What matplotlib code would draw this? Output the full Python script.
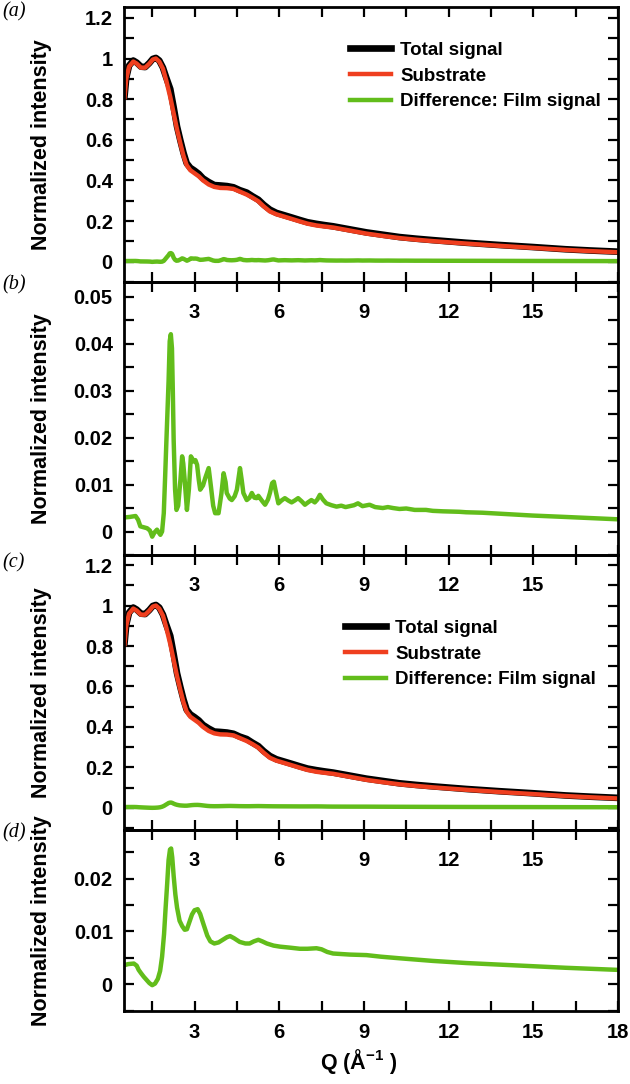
import matplotlib
matplotlib.use("Agg")
import matplotlib.pyplot as plt
from matplotlib.ticker import MultipleLocator, FuncFormatter


OUTPUT_FILE = "out.png"

RED = "#EF3F1F"
GREEN = "#62BD1B"

# Q grid and intensities for the total / substrate curves (panels a and c)
q_main = [0.52, 0.58, 0.68, 0.83, 0.95, 1.1, 1.25, 1.4, 1.52, 1.63, 1.75, 1.88,
          2.0, 2.14, 2.26, 2.38, 2.5, 2.61, 2.72, 2.85, 3.0, 3.15, 3.3, 3.5,
          3.7, 3.91, 4.15, 4.38, 4.6, 4.85, 5.05, 5.26, 5.45, 5.67, 5.9, 6.14,
          6.45, 6.73, 7.0, 7.32, 7.6, 7.91, 8.5, 9.09, 9.7, 10.26, 10.85, 11.44,
          12.62, 13.79, 14.97, 16.14, 17.0, 18.0]
substrate = [0.81, 0.90, 0.96, 0.985, 0.975, 0.955, 0.955, 0.975, 0.995, 1.0, 0.985, 0.95,
             0.89, 0.81, 0.73, 0.65, 0.58, 0.52, 0.475, 0.45, 0.435, 0.42, 0.40, 0.38,
             0.368, 0.363, 0.362, 0.358, 0.345, 0.33, 0.315, 0.297, 0.272, 0.247, 0.233, 0.223,
             0.21, 0.198, 0.187, 0.178, 0.173, 0.168, 0.153, 0.138, 0.126, 0.116, 0.108, 0.101,
             0.089, 0.078, 0.068, 0.058, 0.052, 0.046]
total_signal = [0.815, 0.905, 0.965, 0.99, 0.98, 0.96, 0.958, 0.978, 0.998, 1.003, 0.99, 0.955,
                0.905, 0.85, 0.76, 0.665, 0.595, 0.535, 0.485, 0.462, 0.448, 0.432, 0.41, 0.392,
                0.377, 0.375, 0.372, 0.366, 0.352, 0.34, 0.322, 0.305, 0.28, 0.256, 0.24, 0.23,
                0.217, 0.205, 0.194, 0.186, 0.18, 0.174, 0.159, 0.144, 0.132, 0.121, 0.113, 0.106,
                0.093, 0.082, 0.072, 0.061, 0.055, 0.049]

# film signal, raw difference (panels a and b)
q_raw = [0.52, 0.7, 0.91, 1.0, 1.08, 1.2, 1.32, 1.42, 1.5, 1.58, 1.67, 1.73, 1.79, 1.85,
         1.91, 1.96, 2.0, 2.08, 2.12, 2.16, 2.2, 2.23, 2.26, 2.31, 2.36, 2.42, 2.5, 2.56,
         2.6, 2.65, 2.73, 2.8, 2.87, 2.92, 2.97, 3.03, 3.09, 3.15, 3.2, 3.3, 3.38, 3.5,
         3.58, 3.66, 3.73, 3.85, 3.95, 4.03, 4.1, 4.14, 4.25, 4.32, 4.42, 4.5, 4.61, 4.67,
         4.73, 4.85, 4.95, 5.03, 5.12, 5.2, 5.26, 5.32, 5.42, 5.5, 5.6, 5.67, 5.75, 5.81,
         5.88, 5.97, 6.08, 6.2, 6.32, 6.44, 6.55, 6.67, 6.8, 6.91, 7.02, 7.14, 7.26, 7.35,
         7.44, 7.55, 7.67, 7.85, 8.03, 8.2, 8.35, 8.5, 8.65, 8.79, 8.95, 9.2, 9.4, 9.67,
         9.85, 10.03, 10.26, 10.5, 10.8, 11.2, 11.44, 11.8, 12.38, 12.62, 13.2, 13.79,
         14.97, 16.14, 18.0]
diff_raw = [0.003, 0.0031, 0.0033, 0.0025, 0.0011, 0.0009, 0.0007, 0.0002, -0.0011, -0.0002,
            0.0004, -0.0002, -0.0007, 0.0, 0.0039, 0.012, 0.0188, 0.032, 0.0405, 0.042,
            0.039, 0.03, 0.0195, 0.009, 0.0046, 0.0055, 0.011, 0.016, 0.0145, 0.011,
            0.0046, 0.009, 0.016, 0.0155, 0.0149, 0.0152, 0.0142, 0.011, 0.0089, 0.0098,
            0.0114, 0.0135, 0.0096, 0.0055, 0.0039, 0.0039, 0.008, 0.0124, 0.0105, 0.0082,
            0.007, 0.0067, 0.0075, 0.0089, 0.0135, 0.011, 0.0082, 0.0067, 0.0072, 0.0082,
            0.0072, 0.0071, 0.0076, 0.0071, 0.0063, 0.0057, 0.0068, 0.0082, 0.0103, 0.0106,
            0.0085, 0.006, 0.0066, 0.0071, 0.0066, 0.0062, 0.0066, 0.0071, 0.0064, 0.0057,
            0.0062, 0.0067, 0.0062, 0.0068, 0.0078, 0.0068, 0.006, 0.0056, 0.0053, 0.0055,
            0.0052, 0.0054, 0.0056, 0.006, 0.0054, 0.0057, 0.0052, 0.005, 0.0052, 0.005,
            0.0048, 0.0049, 0.0046, 0.0046, 0.0044, 0.0043, 0.0042, 0.0041, 0.004, 0.0038,
            0.0034, 0.0031, 0.0026]

# film signal, smoothed difference (panels c and d)
q_smooth = [0.52, 0.65, 0.85, 0.95, 1.02, 1.1, 1.2, 1.3, 1.4, 1.5, 1.6, 1.7, 1.78, 1.85,
            1.92, 1.97, 2.03, 2.08, 2.13, 2.17, 2.21, 2.26, 2.32, 2.38, 2.47, 2.56, 2.65,
            2.73, 2.82, 2.91, 3.0, 3.11, 3.2, 3.32, 3.45, 3.56, 3.7, 3.85, 4.0, 4.15, 4.26,
            4.4, 4.6, 4.8, 4.95, 5.1, 5.26, 5.4, 5.56, 5.8, 6.03, 6.4, 6.73, 7.0, 7.32, 7.5,
            7.7, 7.91, 8.5, 9.09, 9.6, 10.26, 11.44, 12.62, 13.79, 14.97, 16.14, 18.0]
diff_smooth = [0.0036, 0.0038, 0.0039, 0.0035, 0.0027, 0.0021, 0.0014, 0.0008, 0.0002,
               -0.0002, 0.0001, 0.001, 0.0025, 0.0052, 0.0095, 0.014, 0.019, 0.0235, 0.0255,
               0.0257, 0.024, 0.0205, 0.017, 0.0145, 0.012, 0.011, 0.0103, 0.0104, 0.0118,
               0.0132, 0.014, 0.0142, 0.0133, 0.0113, 0.0092, 0.0081, 0.0077, 0.0079, 0.0084,
               0.0089, 0.0091, 0.0087, 0.008, 0.0077, 0.0077, 0.0081, 0.0084, 0.0081, 0.0077,
               0.0073, 0.0071, 0.0069, 0.0067, 0.0067, 0.0068, 0.0066, 0.0061, 0.0058, 0.0056,
               0.0055, 0.0052, 0.0049, 0.0044, 0.004, 0.0037, 0.0034, 0.0031, 0.0027]

legend_labels = ["Total signal", "Substrate", "Difference: Film signal"]
panel_labels = ["(a)", "(b)", "(c)", "(d)"]


def style_axes(ax, y_major, y_minor, ylim, x_labels_max, x_pad):
    ax.patch.set_visible(False)
    ax.set_xlim(0.5, 18)
    ax.set_ylim(*ylim)
    ax.xaxis.set_major_locator(MultipleLocator(3))
    ax.xaxis.set_minor_locator(MultipleLocator(1.5))
    ax.yaxis.set_major_locator(MultipleLocator(y_major))
    ax.yaxis.set_minor_locator(MultipleLocator(y_minor))
    ax.xaxis.set_major_formatter(
        FuncFormatter(lambda v, _: f"{v:g}" if 1 < v <= x_labels_max + 0.01 else ""))
    ax.yaxis.set_major_formatter(
        FuncFormatter(lambda v, _: f"{round(v, 4):g}" if v > -1e-9 else ""))
    ax.tick_params(which="both", direction="in", top=True, right=True,
                   length=7, width=1.6, labelsize=14.5)
    ax.tick_params(axis="x", pad=x_pad)
    ax.tick_params(axis="y", pad=8)
    for spine in ax.spines.values():
        spine.set_linewidth(2)
    ax.set_ylabel("Normalized intensity", fontsize=15.5, fontweight="bold")
    ax.yaxis.set_label_coords(-0.145, 0.5)


def plot_overview(ax, diff_q, diff_vals, legend_anchor):
    ax.plot(q_main, total_signal, color="black", lw=4.8, label=legend_labels[0])
    ax.plot(q_main, substrate, color=RED, lw=3.2, label=legend_labels[1])
    ax.plot(diff_q, diff_vals, color=GREEN, lw=3.2, label=legend_labels[2])
    ax.legend(loc="upper left", bbox_to_anchor=legend_anchor, frameon=False,
              fontsize=13.5, handlelength=2.2, handletextpad=0.5,
              labelspacing=0.46, borderpad=0, borderaxespad=0)


def main() -> None:
    plt.rcParams["font.family"] = "Liberation Sans"
    plt.rcParams["font.weight"] = "bold"
    plt.rcParams["mathtext.fontset"] = "custom"
    plt.rcParams["mathtext.rm"] = "Liberation Sans:bold"
    plt.rcParams["mathtext.bf"] = "Liberation Sans:bold"

    fig = plt.figure(figsize=(6.3, 10.84), dpi=100)
    left, width = 0.1968, 0.784
    ax_a = fig.add_axes([left, 0.7399, width, 0.2537])
    ax_b = fig.add_axes([left, 0.4880, width, 0.2518])
    ax_c = fig.add_axes([left, 0.2343, width, 0.2537])
    ax_d = fig.add_axes([left, 0.0673, width, 0.1670])

    plot_overview(ax_a, q_raw, diff_raw, (0.457, 0.873))
    style_axes(ax_a, 0.2, 0.1, (-0.1, 1.254), 15, 15)

    ax_b.plot(q_raw, diff_raw, color=GREEN, lw=3.2)
    style_axes(ax_b, 0.01, 0.005, (-0.005, 0.0531), 15, 15)

    plot_overview(ax_c, q_smooth, diff_smooth, (0.447, 0.765))
    style_axes(ax_c, 0.2, 0.1, (-0.11, 1.25), 15, 15)

    ax_d.plot(q_smooth, diff_smooth, color=GREEN, lw=3.2)
    style_axes(ax_d, 0.01, 0.005, (-0.0051, 0.0292), 18, 8.5)
    ax_d.set_xlabel(r"Q (Å$^{\mathbf{-1}}$ )", fontsize=15.5, fontweight="bold")
    ax_d.xaxis.set_label_coords(0.476, -0.2)

    label_y = [12, 285, 563, 833]
    for text, y in zip(panel_labels, label_y):
        fig.text(0.003, 1 - y / 1084, text, fontsize=14.5, style="italic",
                 fontweight="normal", family="Liberation Serif", va="center")

    fig.savefig(OUTPUT_FILE, dpi=100)
    plt.close(fig)


if __name__ == "__main__":
    main()
